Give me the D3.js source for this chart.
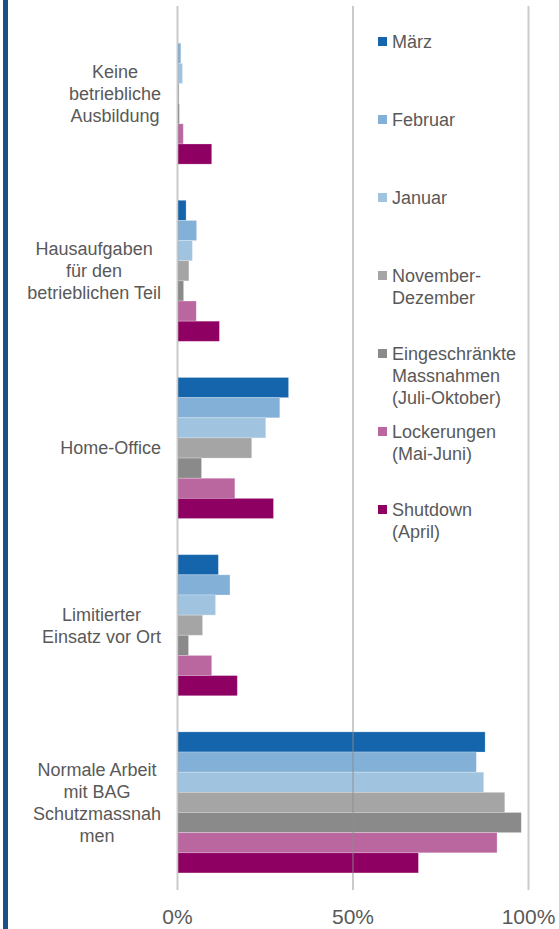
<!DOCTYPE html>
<html>
<head>
<meta charset="utf-8">
<script src="https://cdn.jsdelivr.net/npm/d3@7"></script>
<style>
    body { margin: 0; background: #fff; }
    svg text { font-family: "Liberation Sans", Arial, sans-serif; fill: #595959; }
</style>
</head>
<body>
<script>
(function(){

    //categories (label lines, top to bottom)
    var categories = [
        ["Keine", "betriebliche", "Ausbildung"],
        ["Hausaufgaben", "für den", "betrieblichen Teil"],
        ["Home-Office"],
        ["Limitierter", "Einsatz vor Ort"],
        ["Normale Arbeit", "mit BAG", "Schutzmassnah", "men"]
    ];

    //series names as shown in legend
    var seriesNames = [
        ["März"],
        ["Februar"],
        ["Januar"],
        ["November-", "Dezember"],
        ["Eingeschränkte", "Massnahmen", "(Juli-Oktober)"],
        ["Lockerungen", "(Mai-Juni)"],
        ["Shutdown", "(April)"]
    ];

    //values in percent, one array per series, in category order
    var maerz          = [0.0, 2.3, 31.5, 11.5, 87.5];
    var februar        = [0.8, 5.3, 29.0, 14.8, 85.0];
    var januar         = [1.3, 4.1, 25.0, 10.7, 87.1];
    var novDez         = [0.3, 3.1, 21.0, 7.0, 93.1];
    var eingeschraenkt = [0.4, 1.6, 6.7, 3.0, 97.8];
    var lockerungen    = [1.5, 5.2, 16.2, 9.6, 90.9];
    var shutdown       = [9.6, 11.8, 27.2, 16.9, 68.5];

    var seriesValues = [maerz, februar, januar, novDez, eingeschraenkt, lockerungen, shutdown];
    var colors = ["#1565ac", "#82b0d6", "#a0c3e0", "#a5a5a5", "#8a8a8a", "#ba67a0", "#8f0063"];

    //tick values for x axis
    var ticks = [0, 50, 100];

    var width = 559,
        height = 929;

    var svg = d3.select("body")
        .append("svg")
        .attr("width", width)
        .attr("height", height);

    //blue bar on the left edge
    svg.append("rect")
        .attr("x", 3)
        .attr("y", 0)
        .attr("width", 5)
        .attr("height", height)
        .style("fill", "#1b4f88");

    var xScale = d3.scaleLinear()
        .domain([0, 100])
        .range([177, 528]);

    var catIdx = d3.range(categories.length);
    var yScale = d3.scaleBand()
        .domain(catIdx)
        .range([5, 891])
        .paddingInner(0.204)
        .paddingOuter(0.102);

    var serIdx = d3.range(seriesNames.length);
    var ySub = d3.scaleBand()
        .domain(serIdx)
        .range([0, yScale.bandwidth()]);

    //build flat list of bars
    var bars = [];
    serIdx.forEach(function(s){
        catIdx.forEach(function(c){
            bars.push({ s: s, c: c, v: seriesValues[s][c] });
        });
    });

    svg.selectAll(".bar")
        .data(bars)
        .enter()
        .append("rect")
        .attr("class", "bar")
        .attr("x", xScale(0) + 1)
        .attr("y", function(d){ return yScale(d.c) + ySub(d.s); })
        .attr("width", function(d){ return Math.max(0, xScale(d.v) - xScale(0)); })
        .attr("height", ySub.bandwidth())
        .style("fill", function(d){ return colors[d.s]; })
        .style("stroke", "#fff")
        .style("stroke-opacity", 0.3)
        .style("stroke-width", 0.8);

    //x axis with gridlines drawn over bars
    var xAxis = d3.axisBottom(xScale)
        .tickValues(ticks)
        .tickFormat(function(d){ return d + "%"; })
        .tickSize(-884)
        .tickPadding(19);

    var axis = svg.append("g")
        .attr("transform", "translate(0,890)")
        .call(xAxis);
    axis.select(".domain").remove();
    axis.selectAll("line")
        .style("stroke", "#8c8c8c")
        .style("stroke-opacity", 0.45)
        .style("stroke-width", 2);
    axis.selectAll("text")
        .style("font-size", "21px")
        .style("fill", "#595959");

    //category labels: lines centred, block right-aligned
    var labelRight = 161,
        lineH = 22;
    catIdx.forEach(function(c){
        var lines = categories[c];
        var cy = yScale(c) + yScale.bandwidth() / 2;
        var g = svg.append("g");
        var texts = g.selectAll("text")
            .data(lines)
            .enter()
            .append("text")
            .attr("y", function(d, i){ return cy + (i - (lines.length - 1) / 2) * lineH; })
            .attr("dy", "0.35em")
            .attr("text-anchor", "middle")
            .style("font-size", "18px")
            .text(function(d){ return d; });
        var maxW = d3.max(texts.nodes(), function(n){ return n.getComputedTextLength(); });
        texts.attr("x", labelRight - maxW / 2);
    });

    //legend
    var legend = svg.selectAll(".legend")
        .data(serIdx)
        .enter()
        .append("g")
        .attr("class", "legend")
        .attr("transform", function(d){ return "translate(378," + (41.5 + d * 78) + ")"; });

    legend.append("rect")
        .attr("x", 0)
        .attr("y", -4.5)
        .attr("width", 9)
        .attr("height", 9)
        .style("fill", function(d){ return colors[d]; });

    legend.each(function(d){
        d3.select(this).selectAll("text")
            .data(seriesNames[d])
            .enter()
            .append("text")
            .attr("x", 14)
            .attr("y", function(t, i){ return i * lineH; })
            .attr("dy", "0.35em")
            .style("font-size", "18px")
            .text(function(t){ return t; });
    });

})();
</script>
</body>
</html>
